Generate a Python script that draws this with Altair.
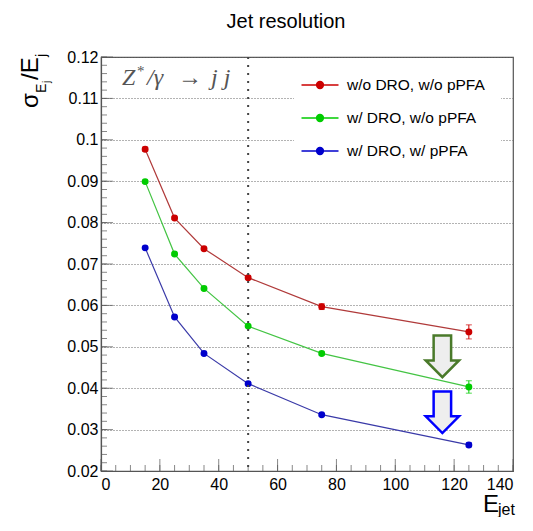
import altair as alt
import pandas as pd

# ---------------- data ----------------
energies = [15, 25, 35, 50, 75, 125]
series_names = ["w/o DRO, w/o pPFA", "w/ DRO, w/o pPFA", "w/ DRO, w/ pPFA"]
res_noDRO_noPFA = [0.0977, 0.0811, 0.0737, 0.0667, 0.0597, 0.0536]
res_DRO_noPFA = [0.0899, 0.0724, 0.0641, 0.0550, 0.0484, 0.0403]
res_DRO_PFA = [0.0739, 0.0572, 0.0484, 0.0411, 0.0336, 0.0263]
err_noDRO_noPFA = [0.0005, 0.0003, 0.0003, 0.0004, 0.0007, 0.0017]
err_DRO_noPFA = [0.0003, 0.0003, 0.0003, 0.0003, 0.0004, 0.0015]
err_DRO_PFA = [0.0002, 0.0002, 0.0002, 0.0003, 0.0003, 0.0005]
point_colors = ["#cc0000", "#00cc00", "#0000cc"]
line_colors = ["#b03a3a", "#44c444", "#3a3aa8"]

x_major = [0, 20, 40, 60, 80, 100, 120, 140]
x_minor = [0, 5, 10, 15, 20, 25, 30, 35, 40, 45, 50, 55, 60, 65, 70, 75, 80, 85, 90,
           95, 100, 105, 110, 115, 120, 125, 130, 135, 140]
y_major = [0.02, 0.03, 0.04, 0.05, 0.06, 0.07, 0.08, 0.09, 0.1, 0.11, 0.12]
y_minor = [round(0.02 + 0.002 * i, 3) for i in range(51)]

cut_line_x = [50]
arrow_x = [116, 116]
arrow_y = [0.0477, 0.0342]
arrow_colors = ["#4a7a2a", "#0000ff"]

FONT = "Liberation Sans"
W, H = 412, 414
MAJOR, MINOR = 12, 6

# ---------------- tables ----------------
rows = []
for name, vals, errs, pc, lc in zip(
    series_names,
    [res_noDRO_noPFA, res_DRO_noPFA, res_DRO_PFA],
    [err_noDRO_noPFA, err_DRO_noPFA, err_DRO_PFA],
    point_colors, line_colors):
    for e, v, s in zip(energies, vals, errs):
        rows.append({"series": name, "E": e, "res": v, "lo": v - s, "hi": v + s,
                     "pc": pc, "lc": lc})
df = pd.DataFrame(rows)
caps = pd.concat([df.assign(cap=df["lo"]), df.assign(cap=df["hi"])])

xs = alt.Scale(domain=[0, 140], nice=False, zero=False)
ys = alt.Scale(domain=[0.02, 0.12], nice=False, zero=False)
AX = "#555555"

base = alt.Chart(df)

# the one explicit axis pair: labels, grid, domain (ticks drawn as marks below)
lines = base.mark_line(strokeWidth=1.2).encode(
    x=alt.X("E:Q", scale=xs, axis=alt.Axis(
        orient="bottom", values=x_major, grid=False, title=None, ticks=False,
        labelFont=FONT, labelFontSize=16, labelColor="black",
        labelPadding=5, domainColor=AX, domainWidth=1.2)),
    y=alt.Y("res:Q", scale=ys, axis=alt.Axis(
        orient="left", values=y_major, format="~g", grid=True,
        gridDash=[1, 2], gridColor="#666666", gridWidth=1, title=None,
        ticks=False, labelFont=FONT, labelFontSize=16, labelColor="black",
        labelPadding=3, domainColor=AX, domainWidth=1.2)),
    color=alt.Color("lc:N", scale=None),
)


def yticks(values, size):
    return alt.Chart(pd.DataFrame({"res": values})).mark_tick(
        orient="horizontal", size=size, thickness=1, color=AX).encode(
        y=alt.Y("res:Q", scale=ys), x=alt.value(size / 2))


def xticks(values, size):
    return alt.Chart(pd.DataFrame({"E": values})).mark_tick(
        orient="vertical", size=size, thickness=1, color=AX).encode(
        x=alt.X("E:Q", scale=xs), y=alt.value(H - size / 2))


tick_layers = [yticks(y_major, MAJOR), yticks(y_minor, MINOR),
               xticks(x_major, MAJOR), xticks(x_minor, MINOR)]

points = base.mark_point(filled=True, size=48, opacity=1, strokeWidth=0).encode(
    x=alt.X("E:Q", scale=xs),
    y=alt.Y("res:Q", scale=ys),
    color=alt.Color("pc:N", scale=None),
)

symbol_path = ("M -1.85 0 L 1.85 0 "
               "M 0.35 0 A 0.35 0.35 0 1 1 -0.35 0 A 0.35 0.35 0 1 1 0.35 0 "
               "M 0.25 0 A 0.25 0.25 0 1 1 -0.25 0 A 0.25 0.25 0 1 1 0.25 0 "
               "M 0.15 0 A 0.15 0.15 0 1 1 -0.15 0 A 0.15 0.15 0 1 1 0.15 0 "
               "M 0.06 0 A 0.06 0.06 0 1 1 -0.06 0 A 0.06 0.06 0 1 1 0.06 0")
leg = alt.Legend(orient="none", legendX=193, legendY=2, title=None,
                 symbolType=symbol_path, symbolSize=400, symbolStrokeWidth=1.3,
                 symbolOpacity=1,
                 labelFont=FONT, labelFontSize=15.5, labelColor="black",
                 labelOffset=16, rowPadding=13, padding=15, fillColor="white",
                 strokeColor="white")
pscale = alt.Scale(domain=series_names, range=point_colors)

errbars = base.mark_rule(strokeWidth=1).encode(
    x=alt.X("E:Q", scale=xs),
    y=alt.Y("lo:Q", scale=ys),
    y2="hi:Q",
    stroke=alt.Stroke("series:N", scale=pscale, legend=leg, sort=series_names),
)

capmarks = alt.Chart(caps).mark_tick(orient="horizontal", size=6, thickness=1).encode(
    x=alt.X("E:Q", scale=xs),
    y=alt.Y("cap:Q", scale=ys),
    color=alt.Color("pc:N", scale=None),
)

vline = alt.Chart(pd.DataFrame({"E": cut_line_x})).mark_rule(
    strokeDash=[2, 6], strokeWidth=2, color="#444444").encode(
    x=alt.X("E:Q", scale=xs))

arrow_path = "M -0.42 -1 L 0.42 -1 L 0.42 0.2 L 0.8 0.2 L 0 1 L -0.8 0.2 L -0.42 0.2 Z"
arrows = alt.Chart(pd.DataFrame({"E": arrow_x, "res": arrow_y, "c": arrow_colors})).mark_point(
    shape=arrow_path, size=1730, filled=True, fill="#eeeeee", fillOpacity=1,
    opacity=1, strokeWidth=2.5, strokeJoin="miter").encode(
    x=alt.X("E:Q", scale=xs),
    y=alt.Y("res:Q", scale=ys),
    stroke=alt.Stroke("c:N", scale=None),
)


def txt(s, x, y, size, angle=0, align="left", baseline="alphabetic",
        font=FONT, color="black", style="normal"):
    return alt.Chart(pd.DataFrame({"t": [s]})).mark_text(
        align=align, baseline=baseline, fontSize=size, font=font, color=color,
        angle=angle, fontStyle=style).encode(
        text="t:N", x=alt.value(x), y=alt.value(y))


SERIF = "Liberation Serif"
GREY = "#555555"
texts = [
    txt("Jet resolution", 185, -29, 20, align="center"),
    # y title  sigma_{E_j}/E_j
    txt("σ", -63, 51, 24, angle=270),
    txt("E", -55, 36, 14, angle=270),
    txt("j", -51, 26, 10, angle=270),
    txt("/E", -63, 23, 24, angle=270),
    txt("j", -55, 0, 14, angle=270),
    # x title E_jet
    txt("E", 382, 455, 24),
    txt("jet", 397, 458, 16),
    # process label
    txt("Z", 21, 28, 24, font=SERIF, color=GREY, style="italic"),
    txt("*", 36, 19, 15, font=SERIF, color=GREY),
    txt("/γ", 46, 28, 24, font=SERIF, color=GREY, style="italic"),
    txt("→", 77, 28, 24, font=SERIF, color=GREY),
    txt("j j", 110, 28, 24, font=SERIF, color=GREY, style="italic"),
]

chart = alt.layer(lines, *tick_layers, points, errbars, capmarks, vline, arrows,
                  *texts).properties(
    width=W, height=H,
    padding={"left": 93, "top": 49, "right": 12, "bottom": 46},
    autosize=alt.AutoSizeParams(type="none"),
).configure_view(stroke=AX, strokeWidth=1.2)

chart.save("out.html", embed_options={"renderer": "svg", "actions": False})
